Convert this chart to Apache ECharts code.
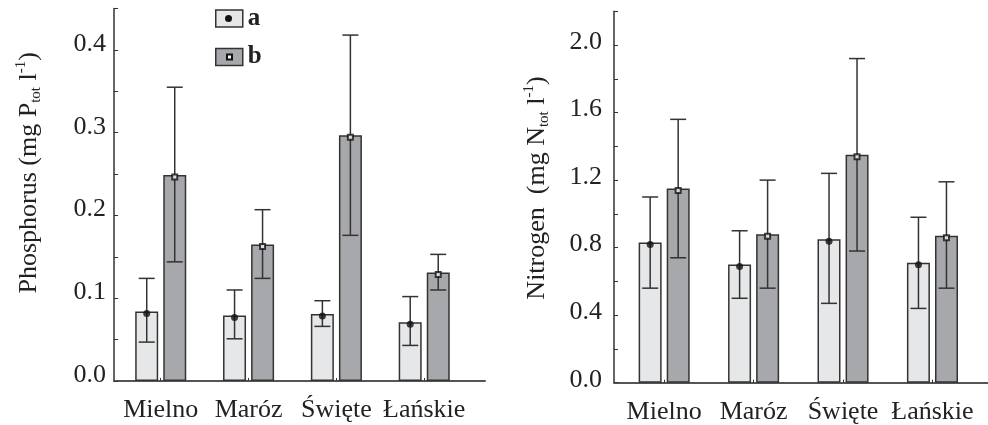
<!DOCTYPE html>
<html>
<head>
<meta charset="utf-8">
<script src="https://cdn.jsdelivr.net/npm/echarts@6.0.0/dist/echarts.min.js"></script>
<style>
    html, body { margin: 0; padding: 0; background: #fff; }
    #main { width: 988px; height: 425px; }
</style>
</head>
<body>
<div id="main"></div>
<script>
//Lakes on the x axis
let lakes = ['Mielno', 'Maróz', 'Święte', 'Łańskie'];
//Position of each lake on the x axis
let lakePos = [1, 2, 3, 4];
//Phosphorus, group a and b (mean, lower and upper whisker)
let phosA = [0.084, 0.079, 0.081, 0.071];
let phosALow = [0.047, 0.051, 0.066, 0.043];
let phosAHigh = [0.124, 0.110, 0.097, 0.102];
let phosB = [0.249, 0.165, 0.297, 0.131];
let phosBLow = [0.144, 0.124, 0.176, 0.110];
let phosBHigh = [0.355, 0.207, 0.418, 0.153];
//Nitrogen, group a and b
let nitA = [0.83, 0.70, 0.85, 0.71];
let nitALow = [0.56, 0.50, 0.47, 0.44];
let nitAHigh = [1.10, 0.90, 1.24, 0.98];
let nitB = [1.15, 0.88, 1.35, 0.87];
let nitBLow = [0.74, 0.56, 0.78, 0.56];
let nitBHigh = [1.56, 1.20, 1.92, 1.19];

const FONT = '"Liberation Serif", "DejaVu Serif", serif';
const INK = '#222';
const COLOR_A = '#e6e7e9';
const COLOR_B = '#a7a8ab';
const SHIFT = 14; // half distance between the two bars of a lake
const CAP = 8;

function pairs(values) {
    return values.map((v, i) => [lakePos[i], v]);
}

function barSeries(name, idx, values, color) {
    return {
        type: 'bar', name: name, xAxisIndex: idx, yAxisIndex: idx,
        data: pairs(values),
        barWidth: 23, barGap: '22%',
        itemStyle: { color: color, borderColor: '#333', borderWidth: 1.5 },
        z: 2
    };
}

function errorSeries(name, idx, low, high, dx) {
    let style = { stroke: '#333', lineWidth: 1.5 };
    return {
        type: 'custom', name: name, xAxisIndex: idx, yAxisIndex: idx,
        data: low.map((l, i) => [lakePos[i], l, high[i]]),
        encode: { x: 0, y: [1, 2] },
        renderItem: function (params, api) {
            let lo = api.coord([api.value(0), api.value(1)]);
            let hi = api.coord([api.value(0), api.value(2)]);
            let x = lo[0] + dx;
            return {
                type: 'group',
                children: [
                    { type: 'line', shape: { x1: x, y1: hi[1], x2: x, y2: lo[1] }, style: style },
                    { type: 'line', shape: { x1: x - CAP, y1: hi[1], x2: x + CAP, y2: hi[1] }, style: style },
                    { type: 'line', shape: { x1: x - CAP, y1: lo[1], x2: x + CAP, y2: lo[1] }, style: style }
                ]
            };
        },
        z: 3
    };
}

function markSeries(name, idx, values, dx) {
    let dot = name === 'a';
    return {
        type: 'scatter', name: name, xAxisIndex: idx, yAxisIndex: idx,
        data: pairs(values),
        symbol: dot ? 'circle' : 'rect',
        symbolSize: dot ? 7 : 5,
        symbolOffset: [dx, 2],
        itemStyle: dot ? { color: '#111' } : { color: '#fff', borderColor: '#111', borderWidth: 2 },
        z: 4
    };
}

function chartSeries(idx, a, aLow, aHigh, b, bLow, bHigh) {
    return [
        barSeries('a', idx, a, COLOR_A),
        barSeries('b', idx, b, COLOR_B),
        errorSeries('a', idx, aLow, aHigh, -SHIFT),
        errorSeries('b', idx, bLow, bHigh, SHIFT),
        markSeries('a', idx, a, -SHIFT),
        markSeries('b', idx, b, SHIFT)
    ];
}

function xAxisFor(idx, min, max) {
    return {
        type: 'value', gridIndex: idx, min: min, max: max,
        splitLine: { show: false },
        axisLine: { onZero: false, lineStyle: { color: '#555', width: 2 } },
        axisTick: { customValues: lakePos, inside: true, length: 3, lineStyle: { color: '#333' } },
        axisLabel: {
            customValues: lakePos,
            formatter: v => lakes[lakePos.indexOf(Math.round(v))],
            fontFamily: FONT, fontSize: 26, color: INK, margin: 16
        }
    };
}

function yAxisFor(idx, max, step, labelStep, name, namePad, nameGap, labelMargin, labelLift) {
    let rich = {
        m: { fontFamily: FONT, fontSize: 26, lineHeight: 30, color: INK },
        sub: { fontFamily: FONT, fontSize: 15, lineHeight: 15, verticalAlign: 'bottom', color: INK },
        sup: { fontFamily: FONT, fontSize: 15, lineHeight: 15, verticalAlign: 'top', color: INK }
    };
    return {
        type: 'value', gridIndex: idx, min: 0, max: max, interval: step,
        name: name, nameLocation: 'middle', nameRotate: 90, nameGap: nameGap,
        nameTextStyle: { padding: [0, 0, 0, namePad], rich: rich },
        splitLine: { show: false },
        axisLine: { show: true, onZero: false, lineStyle: { color: '#333', width: 1.5 } },
        axisTick: { show: true, inside: true, length: 4, lineStyle: { color: '#333' } },
        axisLabel: {
            fontFamily: FONT, fontSize: 26, color: INK, margin: labelMargin,
            verticalAlign: 'bottom', lineHeight: labelLift * 2,
            formatter: function (v) {
                let k = Math.round(v / step);
                return k % labelStep === 0 ? v.toFixed(1) : '';
            }
        }
    };
}

//One legend entry: a box with its name, or the marker drawn inside that box
function legendEntry(name, color, top, marker) {
    let dot = name === 'a';
    let item = { name: name, icon: 'rect', itemStyle: { color: color, borderColor: '#333', borderWidth: 1.5 } };
    if (marker) {
        item = {
            name: name, icon: dot ? 'circle' : 'rect',
            itemStyle: dot ? { color: '#111', borderWidth: 0 } : { color: '#fff', borderColor: '#111', borderWidth: 2 }
        };
    }
    return {
        left: marker ? (dot ? 220 : 221) : 210, top: top,
        itemWidth: marker ? (dot ? 7 : 5) : 27,
        itemHeight: marker ? (dot ? 7 : 5) : 17,
        textStyle: {
            fontFamily: FONT, fontSize: 25, fontWeight: 'bold',
            color: marker ? 'transparent' : INK
        },
        data: [item]
    };
}

function drawChart() {
    let myChart = echarts.init(document.getElementById('main'));
    let option = {
        animation: false,
        backgroundColor: '#fff',
        grid: [
            { left: 114, top: 8.6, width: 371, bottom: 44 },
            { left: 614, top: 11.3, right: 0, bottom: 42.3 }
        ],
        xAxis: [
            xAxisFor(0, 0.468, 4.692),
            xAxisFor(1, 0.439, 4.621)
        ],
        yAxis: [
            yAxisFor(0, 0.45, 0.05, 2, '{m|Phosphorus (mg P}{sub|tot}{m| l}{sup|-1}{m|)}', 44, 70, 8, 6),
            yAxisFor(1, 2.2, 0.2, 2, '{m|Nitrogen  (mg N}{sub|tot}{m| l}{sup|-1}{m|)}', 18, 62, 12, 3)
        ],
        legend: [
            legendEntry('a', COLOR_A, 1, false),
            legendEntry('b', COLOR_B, 39.5, false),
            legendEntry('a', COLOR_A, 1, true),
            legendEntry('b', COLOR_B, 39.5, true)
        ],
        series: chartSeries(0, phosA, phosALow, phosAHigh, phosB, phosBLow, phosBHigh)
            .concat(chartSeries(1, nitA, nitALow, nitAHigh, nitB, nitBLow, nitBHigh))
    };
    myChart.setOption(option);
}

drawChart();
</script>
</body>
</html>
